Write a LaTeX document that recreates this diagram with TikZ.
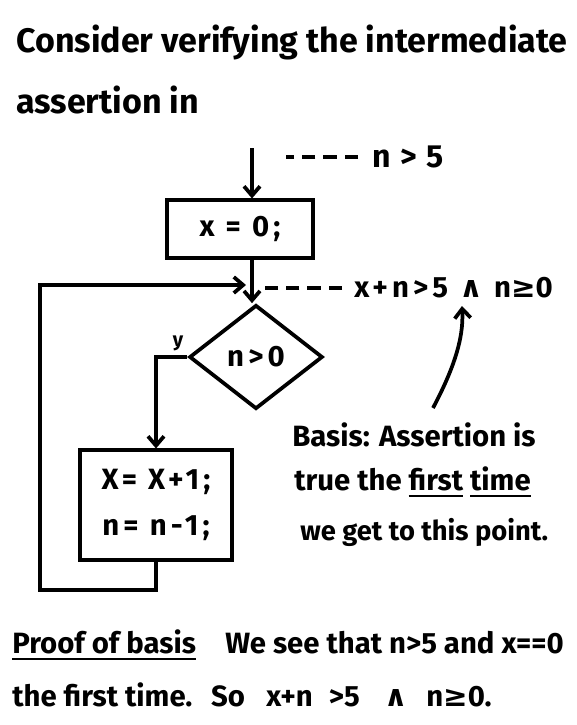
\documentclass[tikz,border=0pt]{standalone}
\usepackage{fontspec}
\setmainfont{Fira Sans}
\newfontfamily\symfont{DejaVu Sans}
\usetikzlibrary{arrows.meta, shapes.geometric, positioning}
\newcommand{\handul}[1]{\setbox0=\hbox{#1}\leavevmode\rlap{\rule[-5pt]{\wd0}{2pt}}\box0{}}
\newcommand{\andsym}{{\symfont\bfseries ∧}}
\newcommand{\geqsym}{{\symfont\bfseries ≥}}
\begin{document}
\begin{tikzpicture}[x=0.75pt, y=-0.75pt, line width=2.8pt,
    >={Straight Barb[length=7pt, width=12pt]},
    every node/.style={align=center, font=\fontsize{20}{24}\selectfont\bfseries},
    bigtext/.style={anchor=west, font=\fontsize{25.5}{30}\selectfont\bfseries},
    notetext/.style={anchor=west, font=\fontsize{22}{26}\selectfont\bfseries},
    codetext/.style={font=\fontsize{22}{26}\selectfont\bfseries\addfontfeatures{LetterSpace=14}},
    stmtbox/.style={draw, rectangle, inner sep=2pt, codetext},
    testbox/.style={draw, diamond, minimum width=100pt, minimum height=78pt, inner sep=0pt, codetext},
    dashlink/.style={line width=3pt, dash pattern=on 10pt off 6pt}]

    \useasboundingbox (0,0) rectangle (577,725);

    % Testo iniziale
    \node[bigtext] (intro1) at (10,42) {Consider verifying the intermediate};
    \node[bigtext] (intro2) at (10,100) {assertion in};

    % Diagramma di flusso
    \coordinate (entry) at (252,148);
    \node[stmtbox, minimum width=109pt, minimum height=43pt] (init) at (240,229) {x = 0;};
    \node[testbox] (test) at (256,357) {n>0};
    \node[stmtbox, minimum width=114pt, minimum height=82pt] (body) at (156,505) {X= X+1;\\[8pt] n= n-1;};
    \coordinate (loopcorner) at (40,590);
    \coordinate (loopin) at (246,285);

    \draw[->] (entry) -- (entry |- init.north);
    \draw[->] (init.south -| entry) -- (entry |- test.north);
    \draw[->] (test.west) -| node[pos=0.15, above, font=\fontsize{15}{18}\selectfont\bfseries] {y} (body.north);
    \draw[->] (body.south) |- (loopcorner) |- (loopin);

    % Asserzioni
    \node[anchor=west, codetext, font=\fontsize{24}{28}\selectfont\bfseries\addfontfeatures{LetterSpace=30}] (pre) at (366,157) {n>5};
    \draw[dashlink] (pre.west) ++(-8,0) -- ++(-72,0);
    \node[anchor=west, codetext] (inv) at (348,288) {x+n>5\ \andsym\ n\geqsym0};
    \draw[dashlink] (inv.west) ++(-6,0) -- ++(-78,0);

    % Base dell'induzione
    \node[notetext] (basis1) at (286,435) {Basis: Assertion is};
    \node[notetext] (basis2) at (288,482) {true the \handul{first} \handul{time}};
    \node[notetext, font=\fontsize{20.5}{25}\selectfont\bfseries] (basis3) at (294,532) {we get to this point.};
    \coordinate (basistail) at (433,408);
    \coordinate (invhead) at (462,306);
    \draw[->] (basistail) .. controls (452,372) and (464,340) .. (invhead);

    % Dimostrazione
    \node[notetext] (proof1) at (6,645) {\handul{Proof of basis}\quad We see that n>5 and x==0};
    \node[notetext] (proof2) at (6,695) {the first time.\hspace{14pt}So\hspace{16pt}x+n\hspace{12pt}>5\hspace{18pt}\andsym\hspace{14pt}n\geqsym0.};

\end{tikzpicture}
\end{document}
